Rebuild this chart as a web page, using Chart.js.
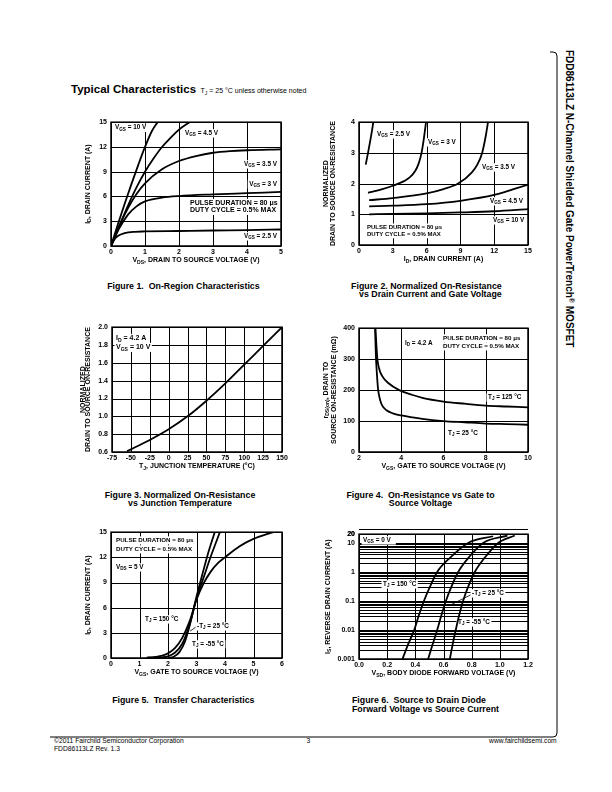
<!DOCTYPE html>
<html>
<head>
<meta charset="utf-8">
<script src="https://cdn.jsdelivr.net/npm/chart.js@4.4.0/dist/chart.umd.min.js"></script>
<style>
  body { margin: 0; background: #fff; }
  #page { position: relative; width: 612px; height: 792px; overflow: hidden; background: #fff; color: #000;
          font-family: "Liberation Sans", Arial, sans-serif; }
  .abs { position: absolute; white-space: nowrap; }
  .cap { position: absolute; white-space: nowrap; font-weight: bold; font-size: 8.8px; }
  .sb { font-size: 5px; position: relative; top: 2px; }
  .gl { position: absolute; background: #000; }
  canvas { position: absolute; }
</style>
</head>
<body>
<div id="page">
  <svg class="abs" style="left:0;top:0" width="612" height="792">
    <path d="M 550 52 H 553 Q 557 52 557 56 V 733 Q 557 737 553 737 H 50" fill="none" stroke="#000" stroke-width="1"/>
  </svg>

  <div class="abs" style="left:71px;top:82px;font-weight:bold;font-size:11.5px;line-height:14px;">Typical Characteristics</div>
  <div class="abs" style="left:200.5px;top:87px;font-size:7px;line-height:8px;">T<span class="sb">J</span> = 25 °C unless otherwise noted</div>

  <div class="abs" style="left:573.5px;top:50px;transform-origin:0 0;transform:rotate(90deg);font-weight:bold;font-size:10px;line-height:10px;">FDD86113LZ N-Channel Shielded Gate PowerTrench<span style="font-size:7px;position:relative;top:-3px">®</span> MOSFET</div>

  <div class="cap" style="left:63.4px;width:240px;top:282.2px;line-height:9px;text-align:center;">Figure 1.&nbsp; On-Region Characteristics</div>
  <div class="cap" style="left:301.7px;width:200px;top:281.5px;line-height:8.4px;text-align:right;">Figure 2. Normalized On-Resistance<br>vs Drain Current and Gate Voltage</div>
  <div class="cap" style="left:60px;width:240px;top:490.7px;line-height:8.7px;text-align:center;">Figure 3. Normalized On-Resistance<br>vs Junction Temperature</div>
  <div class="cap" style="left:300.5px;width:240px;top:490.7px;line-height:8.7px;text-align:center;">Figure 4.&nbsp; On-Resistance vs Gate to<br>Source Voltage</div>
  <div class="cap" style="left:63.3px;width:240px;top:695.5px;line-height:9px;text-align:center;">Figure 5.&nbsp; Transfer Characteristics</div>
  <div class="cap" style="left:352px;top:695.5px;line-height:9px;">Figure 6.&nbsp; Source to Drain Diode<br>Forward Voltage vs Source Current</div>

  <div class="abs" style="left:54px;top:736.5px;font-size:6.7px;line-height:7px;">©2011 Fairchild Semiconductor Corporation</div>
  <div class="abs" style="left:54px;top:744.8px;font-size:6.7px;line-height:7px;">FDD86113LZ Rev. 1.3</div>
  <div class="abs" style="left:298.3px;width:20px;text-align:center;top:736.5px;font-size:6.7px;line-height:7px;">3</div>
  <div class="abs" style="left:456.7px;width:100px;text-align:right;top:736.5px;font-size:6.7px;line-height:7px;">www.fairchildsemi.com</div>
</div>

<script>
// ---------- data ----------
// Figure 1: On-Region Characteristics  (x = VDS V, y = ID A)
const f1XTicks = [0, 1, 2, 3, 4, 5];
const f1YTicks = [0, 3, 6, 9, 12, 15];
const f1Vgs10 = [[0,0],[0.2,2.6],[0.4,5.1],[0.6,7.5],[0.8,9.8],[1.0,12.0],[1.2,13.9],[1.37,15]];
const f1Vgs45 = [[0,0],[0.25,2.5],[0.5,4.9],[0.75,7.1],[1,9.0],[1.25,10.6],[1.5,12.0],[1.75,13.1],[2,14.1],[2.31,15]];
const f1Vgs35 = [[0,0],[0.25,2.5],[0.5,4.6],[0.75,6.3],[1,7.6],[1.5,9.3],[2,10.3],[2.5,10.9],[3,11.3],[3.5,11.5],[4,11.6],[5,11.7]];
const f1Vgs3  = [[0,0],[0.25,2.2],[0.5,3.8],[0.75,4.8],[1,5.4],[1.5,5.85],[2,6.05],[3,6.25],[4,6.4],[5,6.55]];
const f1Vgs25 = [[0,0],[0.1,0.8],[0.2,1.2],[0.4,1.55],[0.7,1.72],[1,1.76],[2,1.82],[3,1.88],[4,1.93],[5,2.0]];

// Figure 2: Normalized on-resistance vs drain current
const f2XTicks = [0, 3, 6, 9, 12, 15];
const f2YTicks = [0, 1, 2, 3, 4];
const f2Vgs25 = [[0.6,2.62],[0.8,3.0],[1.0,3.4],[1.15,3.72],[1.27,4.0]];
const f2Vgs3  = [[0.8,1.70],[1.5,1.76],[2,1.81],[3,1.93],[4,2.08],[4.5,2.2],[5,2.42],[5.3,2.66],[5.55,3.0],[5.75,3.45],[5.95,4.0]];
const f2Vgs35 = [[0.9,1.46],[3,1.53],[6,1.68],[7.5,1.82],[8.8,2.0],[10,2.36],[10.5,2.62],[10.93,3.0],[11.25,3.55],[11.45,4.0]];
const f2Vgs45 = [[0.9,1.26],[3,1.28],[6,1.33],[9,1.44],[12,1.63],[15,1.97]];
const f2Vgs10 = [[0.9,1.0],[3,1.01],[6,1.03],[9,1.06],[12,1.1],[15,1.17]];

// Figure 3: Normalized on-resistance vs junction temperature
const f3XTicks = [-75, -50, -25, 0, 25, 50, 75, 100, 125, 150];
const f3YTicks = [0.6, 0.8, 1.0, 1.2, 1.4, 1.6, 1.8, 2.0];
const f3Rds = [[-55,0.61],[-50,0.63],[-25,0.735],[0,0.855],[25,1.0],[50,1.175],[75,1.37],[100,1.58],[125,1.79],[150,2.0]];

// Figure 4: rDS(on) vs VGS (mOhm)
const f4XTicks = [2, 4, 6, 8, 10];
const f4YTicks = [0, 100, 200, 300, 400];
const f4Tj25  = [[2.76,400],[2.8,310],[2.85,250],[2.9,205],[3.0,168],[3.1,150],[3.3,135],[3.6,125],[4,118],[5,107],[6,100],[7,96],[8,92],[9,90],[10,88]];
const f4Tj125 = [[2.78,400],[2.82,350],[2.87,300],[2.95,270],[3.1,245],[3.4,222],[3.9,200],[4.5,185],[5,175],[6,163],[7,156],[8,150],[9,147],[10,144]];

// Figure 5: Transfer characteristics
const f5XTicks = [0, 1, 2, 3, 4, 5, 6];
const f5YTicks = [0, 3, 6, 9, 12, 15];
const f5Tj150 = [[1.25,0.05],[1.5,0.1],[1.75,0.25],[2,0.55],[2.25,1.2],[2.5,2.4],[2.75,4.3],[3,6.95],[3.25,8.9],[3.5,10.3],[3.75,11.3],[4,12.0],[4.5,13.3],[5,14.2],[5.5,14.8],[5.7,15.0]];
const f5Tj25  = [[1.3,0.03],[1.75,0.08],[2,0.2],[2.25,0.65],[2.5,1.7],[2.75,3.9],[3,7.1],[3.25,9.6],[3.5,12.1],[3.82,15]];
const f5TjM55 = [[2.0,0.02],[2.2,0.15],[2.4,0.7],[2.6,2.0],[2.8,4.4],[3.0,7.3],[3.2,9.9],[3.4,12.4],[3.64,15]];

// Figure 6: Body diode forward voltage vs source current (log y)
const f6XTicks = [0, 0.2, 0.4, 0.6, 0.8, 1.0, 1.2];
const f6YTicks = [0.001, 0.01, 0.1, 1, 10, 20];
const f6Tj150 = [[0.309,0.001],[0.35,0.0033],[0.392,0.01],[0.425,0.032],[0.461,0.1],[0.505,0.32],[0.555,1],[0.65,3.2],[0.775,10],[0.952,17]];
const f6Tj25  = [[0.491,0.001],[0.523,0.0032],[0.555,0.01],[0.585,0.032],[0.617,0.1],[0.657,0.32],[0.704,1],[0.78,3.2],[0.881,10],[1.054,18]];
const f6TjM55 = [[0.645,0.001],[0.665,0.0032],[0.687,0.01],[0.711,0.032],[0.739,0.1],[0.776,0.32],[0.822,1],[0.895,3.2],[0.988,10],[1.106,18]];

// ---------- drawing helpers ----------
const FONT = '"Liberation Sans", Arial, sans-serif';
const tickFont = { family: FONT, size: 7, weight: 'bold' };

// "V_{GS} = 3 V" -> plain and subscript pieces
function parseRich(str) {
    const out = [];
    const re = /_\{([^}]*)\}|([^_]+)/g;
    let m;
    while ((m = re.exec(str)) !== null) {
        if (m[1] !== undefined) out.push({ t: m[1], sub: true });
        else out.push({ t: m[2], sub: false });
    }
    return out;
}

function drawRich(ctx, str, x, y, size, align, bg) {
    const parts = parseRich(str);
    const fnt = s => 'bold ' + s + 'px ' + FONT;
    let w = 0;
    parts.forEach(p => {
        ctx.font = fnt(p.sub ? size * 0.72 : size);
        p.w = ctx.measureText(p.t).width;
        w += p.w;
    });
    let x0 = align === 'center' ? x - w / 2 : align === 'right' ? x - w : x;
    if (bg) {
        ctx.fillStyle = '#fff';
        ctx.fillRect(x0 - 1.5, y - size * 0.62, w + 3, size * 1.3);
    }
    ctx.fillStyle = '#000';
    ctx.textBaseline = 'middle';
    ctx.textAlign = 'left';
    parts.forEach(p => {
        ctx.font = fnt(p.sub ? size * 0.72 : size);
        ctx.fillText(p.t, x0, p.sub ? y + size * 0.28 : y);
        x0 += p.w;
    });
}

// grid lines at the tick values, through the chart's own scales
function drawGrid(chart, cfg) {
    const a = chart.chartArea, ctx = chart.ctx;
    const xs = chart.scales.x, ys = chart.scales.y;
    ctx.save();
    ctx.fillStyle = '#000';
    cfg.xTicks.forEach(v => {
        const p = Math.round(xs.getPixelForValue(v));
        ctx.fillRect(p, a.top, 1, a.bottom - a.top);
    });
    (cfg.yGrid || cfg.yTicks).forEach(v => {
        const p = Math.round(ys.getPixelForValue(v));
        ctx.fillRect(a.left, p, a.right - a.left, 1);
    });
    ctx.restore();
}

// same grid as page elements placed under the chart canvas
function domGrid(chart, cfg, cv) {
    const a = chart.chartArea;
    const xs = chart.scales.x, ys = chart.scales.y;
    const ox = parseFloat(cv.style.left), oy = parseFloat(cv.style.top);
    const page = document.getElementById('page');
    const add = (l, t, w, h) => {
        const d = document.createElement('div');
        d.className = 'gl';
        d.style.left = l + 'px'; d.style.top = t + 'px';
        d.style.width = w + 'px'; d.style.height = h + 'px';
        page.insertBefore(d, cv);
    };
    cfg.xTicks.forEach(v => add(ox + Math.round(xs.getPixelForValue(v)), oy + a.top, 1, a.bottom - a.top));
    cfg.yTicks.forEach(v => add(ox + a.left, oy + Math.round(ys.getPixelForValue(v)), a.right - a.left, 1));
}

function drawNotes(chart, cfg) {
    const a = chart.chartArea, ctx = chart.ctx;
    ctx.save();
    (cfg.notes || []).forEach(n => {
        if (n.lead) {
            ctx.strokeStyle = '#000';
            ctx.lineWidth = 0.8;
            ctx.beginPath();
            ctx.moveTo(a.left + n.lead[0], a.top + n.lead[1]);
            ctx.lineTo(a.left + n.lead[2], a.top + n.lead[3]);
            ctx.stroke();
        }
        drawRich(ctx, n.text, a.left + n.dx, a.top + n.dy, n.size || 6.4, n.align || 'left', true);
    });
    ctx.restore();
}

// grid, notes, axis titles and plot frame
function decor(cfg) {
    return {
        id: 'decor',
        beforeDatasetsDraw(chart) {
            drawGrid(chart, cfg);
            drawNotes(chart, cfg);
        },
        afterDraw(chart) {
            const a = chart.chartArea, ctx = chart.ctx;
            ctx.save();
            ctx.strokeStyle = '#000';
            ctx.lineWidth = 1.5;
            ctx.strokeRect(a.left, a.top, a.right - a.left, a.bottom - a.top);
            drawRich(ctx, cfg.xTitle, (a.left + a.right) / 2, a.bottom + 14.5, 7, 'center', false);
            cfg.yTitles.forEach((t, i) => {
                ctx.save();
                ctx.translate(a.left + cfg.yTitleX[i], (a.top + a.bottom) / 2);
                ctx.rotate(-Math.PI / 2);
                drawRich(ctx, t, 0, 0, 7, 'center', false);
                ctx.restore();
            });
            ctx.restore();
        }
    };
}

const PAD_L = 48, PAD_R = 10, PAD_T = 8, PAD_B = 26;

function makeChart(box, cfg) {
    const cv = document.createElement('canvas');
    cv.width = box.w + PAD_L + PAD_R;
    cv.height = box.h + PAD_T + PAD_B;
    cv.style.left = (box.x - PAD_L) + 'px';
    cv.style.top = (box.y - PAD_T) + 'px';
    cv.style.width = cv.width + 'px';
    cv.style.height = cv.height + 'px';
    document.getElementById('page').appendChild(cv);

    const chart = new Chart(cv, {
        type: 'scatter',
        data: {
            datasets: cfg.series.map(s => ({
                data: s.map(p => ({ x: p[0], y: p[1] })),
                showLine: true,
                borderColor: '#000',
                borderWidth: 1.8,
                pointRadius: 0,
                cubicInterpolationMode: 'monotone',
                fill: false
            }))
        },
        options: {
            responsive: false,
            animation: false,
            devicePixelRatio: 1,
            events: [],
            layout: { padding: { left: 0, right: PAD_R, top: PAD_T, bottom: 0 } },
            plugins: { legend: { display: false }, tooltip: { enabled: false } },
            scales: {
                x: {
                    type: 'linear',
                    min: cfg.xTicks[0],
                    max: cfg.xTicks[cfg.xTicks.length - 1],
                    afterBuildTicks: s => { s.ticks = cfg.xTicks.map(v => ({ value: v })); },
                    afterFit: s => { s.height = PAD_B; },
                    grid: { display: false, drawTicks: false },
                    border: { display: false },
                    ticks: { font: tickFont, color: '#000', padding: 1.5, maxRotation: 0, autoSkip: false,
                             callback: cfg.xFmt || (v => String(v)) }
                },
                y: {
                    type: cfg.yLog ? 'logarithmic' : 'linear',
                    min: cfg.yMin,
                    max: cfg.yMax,
                    afterBuildTicks: s => { s.ticks = (cfg.yGrid || cfg.yTicks).map(v => ({ value: v })); },
                    afterFit: s => { s.width = PAD_L; },
                    grid: { display: false, drawTicks: false },
                    border: { display: false },
                    ticks: { font: tickFont, color: '#000', padding: 4, autoSkip: false,
                             callback: cfg.yFmt || (v => String(v)) }
                }
            }
        },
        plugins: [decor(cfg)]
    });
    if (cfg.domGrid) domGrid(chart, cfg, cv);
    return chart;
}

// ---------- the six figures ----------
makeChart({ x: 111, y: 122, w: 170, h: 124 }, {
    series: [f1Vgs10, f1Vgs45, f1Vgs35, f1Vgs3, f1Vgs25],
    xTicks: f1XTicks, yTicks: f1YTicks, yMin: 0, yMax: 15,
    xTitle: 'V_{DS}, DRAIN TO SOURCE VOLTAGE (V)',
    yTitles: ['I_{D}, DRAIN CURRENT (A)'], yTitleX: [-23],
    notes: [
        { text: 'V_{GS} = 10 V', dx: 4, dy: 5.5 },
        { text: 'V_{GS} = 4.5 V', dx: 74, dy: 11 },
        { text: 'V_{GS} = 3.5 V', dx: 166, dy: 42, align: 'right' },
        { text: 'V_{GS} = 3 V', dx: 166, dy: 62, align: 'right' },
        { text: 'PULSE DURATION = 80 μs', dx: 79, dy: 81, size: 7 },
        { text: 'DUTY CYCLE = 0.5% MAX', dx: 79, dy: 88, size: 7 },
        { text: 'V_{GS} = 2.5 V', dx: 166, dy: 114, align: 'right' }
    ]
});

makeChart({ x: 359, y: 122, w: 169, h: 123 }, {
    series: [f2Vgs25, f2Vgs3, f2Vgs35, f2Vgs45, f2Vgs10],
    xTicks: f2XTicks, yTicks: f2YTicks, yMin: 0, yMax: 4,
    xTitle: 'I_{D}, DRAIN CURRENT (A)',
    yTitles: ['NORMALIZED', 'DRAIN TO SOURCE ON-RESISTANCE'], yTitleX: [-33, -25.5],
    notes: [
        { text: 'V_{GS} = 2.5 V', dx: 18, dy: 12 },
        { text: 'V_{GS} = 3 V', dx: 69, dy: 20 },
        { text: 'V_{GS} = 3.5 V', dx: 123, dy: 45 },
        { text: 'V_{GS} = 4.5 V', dx: 131, dy: 79 },
        { text: 'V_{GS} = 10 V', dx: 134, dy: 98 },
        { text: 'PULSE DURATION = 80 μs', dx: 8, dy: 105, size: 6 },
        { text: 'DUTY CYCLE = 0.5% MAX', dx: 8, dy: 112, size: 6 }
    ]
});

makeChart({ x: 112, y: 327, w: 170, h: 125 }, {
    domGrid: true,
    series: [f3Rds],
    xTicks: f3XTicks, yTicks: f3YTicks, yMin: 0.6, yMax: 2.0,
    yFmt: v => v.toFixed(1),
    xTitle: 'T_{J}, JUNCTION TEMPERATURE (°C)',
    yTitles: ['NORMALIZED', 'DRAIN TO SOURCE ON-RESISTANCE'], yTitleX: [-29, -23.5],
    notes: [
        { text: 'I_{D} = 4.2 A', dx: 4, dy: 11, size: 7 },
        { text: 'V_{GS} = 10 V', dx: 4, dy: 20, size: 7 }
    ]
});

makeChart({ x: 359, y: 328, w: 169, h: 124 }, {
    series: [f4Tj25, f4Tj125],
    xTicks: f4XTicks, yTicks: f4YTicks, yMin: 0, yMax: 400,
    xTitle: 'V_{GS}, GATE TO SOURCE VOLTAGE (V)',
    yTitles: ['r_{DS(on)}, DRAIN TO', 'SOURCE ON-RESISTANCE (mΩ)'], yTitleX: [-33, -25],
    notes: [
        { text: 'I_{D} = 4.2 A', dx: 46, dy: 15 },
        { text: 'PULSE DURATION = 80 μs', dx: 84, dy: 10, size: 6.2 },
        { text: 'DUTY CYCLE = 0.5% MAX', dx: 84, dy: 18, size: 6.2 },
        { text: 'T_{J} = 125 °C', dx: 129, dy: 69 },
        { text: 'T_{J} = 25 °C', dx: 89, dy: 105 }
    ]
});

makeChart({ x: 111, y: 532, w: 171, h: 126 }, {
    series: [f5Tj150, f5Tj25, f5TjM55],
    xTicks: f5XTicks, yTicks: f5YTicks, yMin: 0, yMax: 15,
    xTitle: 'V_{GS}, GATE TO SOURCE VOLTAGE (V)',
    yTitles: ['I_{D}, DRAIN CURRENT (A)'], yTitleX: [-23],
    notes: [
        { text: 'PULSE DURATION = 80 μs', dx: 5, dy: 8, size: 6.2 },
        { text: 'DUTY CYCLE = 0.5% MAX', dx: 5, dy: 17, size: 6.2 },
        { text: 'V_{DS} = 5 V', dx: 5, dy: 35 },
        { text: 'T_{J} = 150 °C', dx: 34, dy: 87 },
        { text: '-T_{J} = 25 °C', dx: 86, dy: 94, lead: [86, 94, 79, 99] },
        { text: 'T_{J} = -55 °C', dx: 81, dy: 112 }
    ]
});

// log axis: grid at 1..9 of every decade, labels only at f6YTicks
const f6Grid = [];
[0.001, 0.01, 0.1, 1, 10].forEach(d => { for (let m = 1; m <= 9; m++) f6Grid.push(+(m * d).toPrecision(3)); });
f6Grid.push(20);

makeChart({ x: 359, y: 534, w: 169, h: 125 }, {
    series: [f6Tj150, f6Tj25, f6TjM55],
    xTicks: f6XTicks, yTicks: f6YTicks, yGrid: f6Grid, yLog: true, yMin: 0.001, yMax: 20,
    xFmt: v => v.toFixed(1),
    yFmt: v => (f6YTicks.some(t => Math.abs(v - t) < t * 1e-6) ? String(v) : ''),
    xTitle: 'V_{SD}, BODY DIODE FORWARD VOLTAGE (V)',
    yTitles: ['I_{S}, REVERSE DRAIN CURRENT (A)'], yTitleX: [-31],
    notes: [
        { text: 'V_{GS} = 0 V  ', dx: 4, dy: 6 },
        { text: 'T_{J} = 150 °C', dx: 24, dy: 50 },
        { text: '-T_{J} = 25 °C', dx: 113, dy: 59, lead: [113, 60, 91, 71] },
        { text: 'T_{J} = -55 °C', dx: 99, dy: 88 }
    ]
});
</script>
</body>
</html>
